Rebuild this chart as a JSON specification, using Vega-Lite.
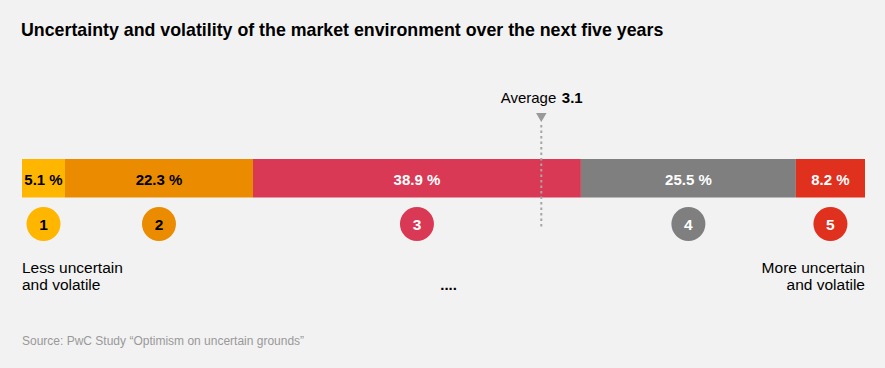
{
  "$schema": "https://vega.github.io/schema/vega-lite/v6.json",
  "width": 885,
  "height": 368,
  "autosize": {"type": "fit", "contains": "padding"},
  "padding": {"left": 21, "right": 20, "top": 0, "bottom": 0},
  "background": "#f2f2f2",
  "config": {"view": {"stroke": null}, "text": {"font": "Liberation Sans"}},
  "datasets": {
    "shares": [
      {"level": 1, "share": 5.1, "label": "5.1 %"},
      {"level": 2, "share": 22.3, "label": "22.3 %"},
      {"level": 3, "share": 38.9, "label": "38.9 %"},
      {"level": 4, "share": 25.5, "label": "25.5 %"},
      {"level": 5, "share": 8.2, "label": "8.2 %"}
    ]
  },
  "layer": [
    {
      "data": {"name": "shares"},
      "transform": [
        {"stack": "share", "groupby": [], "sort": [{"field": "level"}], "as": ["x0", "x1"]},
        {"calculate": "(datum.x0 + datum.x1) / 2", "as": "mid"}
      ],
      "layer": [
        {
          "mark": {"type": "bar"},
          "encoding": {
            "x": {"field": "x0", "type": "quantitative", "scale": {"domain": [0, 100], "nice": false, "zero": false}, "axis": null},
            "x2": {"field": "x1"},
            "y": {"datum": 159, "type": "quantitative", "scale": {"domain": [0, 368], "reverse": true, "nice": false, "zero": false}, "axis": null},
            "y2": {"datum": 197.5},
            "color": {"field": "level", "type": "nominal", "scale": {"domain": [1, 2, 3, 4, 5], "range": ["#FFB600", "#EB8C00", "#DA3955", "#7F7F7F", "#E0301E"]}, "legend": null}
          }
        },
        {
          "mark": {"type": "text", "fontSize": 15, "fontWeight": "bold", "baseline": "alphabetic", "align": "center"},
          "encoding": {
            "x": {"field": "mid", "type": "quantitative"},
            "y": {"datum": 184.5, "type": "quantitative"},
            "text": {"field": "label"},
            "color": {"condition": {"test": "datum.level >= 3", "value": "#ffffff"}, "value": "#000000"}
          }
        },
        {
          "mark": {"type": "point", "shape": "circle", "filled": true, "opacity": 1, "size": 1156},
          "encoding": {
            "x": {"field": "mid", "type": "quantitative"},
            "y": {"datum": 224, "type": "quantitative"},
            "color": {"field": "level", "type": "nominal", "legend": null}
          }
        },
        {
          "mark": {"type": "text", "fontSize": 15.5, "fontWeight": "bold", "baseline": "alphabetic", "align": "center"},
          "encoding": {
            "x": {"field": "mid", "type": "quantitative"},
            "y": {"datum": 229.5, "type": "quantitative"},
            "text": {"field": "level"},
            "color": {"condition": {"test": "datum.level >= 3", "value": "#ffffff"}, "value": "#000000"}
          }
        }
      ]
    },
    {
      "data": {"values": [{"average": 3.1}]},
      "layer": [
        {
          "mark": {"type": "rule", "strokeDash": [2.5, 3], "strokeWidth": 2, "color": "#a6a6a6"},
          "encoding": {
            "x": {"datum": 61.6, "type": "quantitative"},
            "y": {"datum": 125, "type": "quantitative"},
            "y2": {"datum": 229}
          }
        },
        {
          "mark": {"type": "point", "shape": "triangle-down", "filled": true, "opacity": 1, "size": 110, "color": "#999999"},
          "encoding": {
            "x": {"datum": 61.6, "type": "quantitative"},
            "y": {"datum": 117.5, "type": "quantitative"}
          }
        },
        {
          "mark": {"type": "text", "fontSize": 15, "align": "right", "baseline": "alphabetic", "dx": 15, "color": "#000000", "text": "Average"},
          "encoding": {
            "x": {"datum": 61.6, "type": "quantitative"},
            "y": {"datum": 103, "type": "quantitative"}
          }
        },
        {
          "mark": {"type": "text", "fontSize": 15, "fontWeight": "bold", "align": "left", "baseline": "alphabetic", "dx": 20.5, "color": "#000000"},
          "encoding": {
            "x": {"datum": 61.6, "type": "quantitative"},
            "y": {"datum": 103, "type": "quantitative"},
            "text": {"field": "average", "format": ".1f"}
          }
        }
      ]
    },
    {
      "data": {"values": [{"text": "Uncertainty and volatility of the market environment over the next five years"}]},
      "mark": {"type": "text", "fontSize": 17.8, "fontWeight": "bold", "align": "left", "baseline": "alphabetic", "color": "#000000", "dx": -1},
      "encoding": {
        "x": {"datum": 0, "type": "quantitative"},
        "y": {"datum": 36, "type": "quantitative"},
        "text": {"field": "text"}
      }
    },
    {
      "data": {"values": [{"text": "Less uncertain\nand volatile"}]},
      "mark": {"type": "text", "fontSize": 15.5, "align": "left", "baseline": "alphabetic", "lineBreak": "\n", "lineHeight": 17.5, "color": "#000000"},
      "encoding": {
        "x": {"datum": 0, "type": "quantitative"},
        "y": {"datum": 272.5, "type": "quantitative"},
        "text": {"field": "text"}
      }
    },
    {
      "data": {"values": [{"text": "More uncertain\nand volatile"}]},
      "mark": {"type": "text", "fontSize": 15.5, "align": "right", "baseline": "alphabetic", "lineBreak": "\n", "lineHeight": 17, "color": "#000000"},
      "encoding": {
        "x": {"datum": 100, "type": "quantitative"},
        "y": {"datum": 273, "type": "quantitative"},
        "text": {"field": "text"}
      }
    },
    {
      "data": {"values": [{"text": "...."}]},
      "mark": {"type": "text", "fontSize": 15, "fontWeight": "bold", "align": "center", "baseline": "alphabetic", "color": "#000000"},
      "encoding": {
        "x": {"datum": 50.6, "type": "quantitative"},
        "y": {"datum": 290, "type": "quantitative"},
        "text": {"field": "text"}
      }
    },
    {
      "data": {"values": [{"text": "Source: PwC Study “Optimism on uncertain grounds”"}]},
      "mark": {"type": "text", "fontSize": 12, "align": "left", "baseline": "alphabetic", "color": "#999999"},
      "encoding": {
        "x": {"datum": 0, "type": "quantitative"},
        "y": {"datum": 345, "type": "quantitative"},
        "text": {"field": "text"}
      }
    }
  ]
}
